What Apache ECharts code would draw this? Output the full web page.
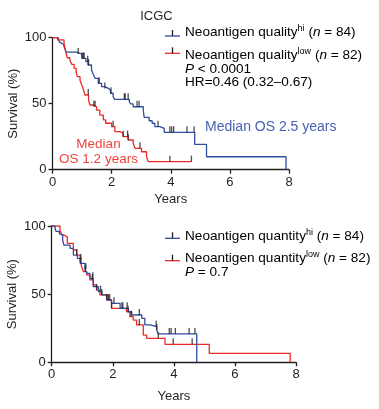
<!DOCTYPE html>
<html><head><meta charset="utf-8">
<script src="https://cdn.jsdelivr.net/npm/echarts@6/dist/echarts.min.js"></script>
<style>html,body{margin:0;padding:0;background:#fff}#c{width:379px;height:409px}</style>
</head><body><div id="c"></div>
<script>
// ---------- DATA ----------
const xTicks = [0, 2, 4, 6, 8];
const yTicks = [0, 50, 100];
const topTitle = 'ICGC';
const yAxisTitle = 'Survival (%)';
const xAxisTitle = 'Years';

// Top panel: neoantigen quality (KM steps: [time in years, survival % after the step])
const qualityHi = [[0,100],[0.2,98.3],[0.25,96.5],[0.31,95],[0.37,93.7],[0.42,91.4],[0.48,89],[0.8,87.6],[1.0,84.3],[1.13,81.8],[1.2,79.3],[1.32,75.5],[1.38,72.2],[1.44,69.2],[1.55,65.4],[1.66,62.9],[1.77,61.6],[1.89,60.4],[1.96,57.9],[2.05,55.5],[2.1,53.3],[2.6,51.5],[2.64,49.8],[2.73,47.7],[3.07,45.2],[3.1,39.7],[3.27,37.1],[3.37,35.2],[3.46,32.6],[3.63,31.3],[3.78,28.3],[4.81,19.2],[5.21,9.8],[7.9,0]];
const qualityLow = [[0,100],[0.17,98.3],[0.39,95.8],[0.42,92],[0.46,88.2],[0.5,84.8],[0.59,83],[0.65,79.8],[0.73,76.8],[0.8,74.2],[0.84,70.5],[0.93,68],[0.99,64.2],[1.04,61.1],[1.1,56.6],[1.22,52.8],[1.27,49],[1.38,47.7],[1.49,45.2],[1.6,41.4],[1.72,37.7],[1.8,35.2],[2.0,32.6],[2.11,28.8],[2.28,27.6],[2.39,25],[2.56,22.5],[2.73,20],[2.79,16.2],[3.01,13.6],[3.18,9.8],[3.24,6.1],[4.7,6.1]];
const qualityHiCensor = [0.87,1.0,1.04,1.07,1.19,1.22,1.58,1.77,1.98,2.43,2.46,2.56,2.86,2.93,3.57,3.97,4.03,4.1,4.55,4.79];
const qualityLowCensor = [1.21,1.4,1.44,2.05,2.39,2.54,2.56,2.96,3.97,4.7];

// Bottom panel: neoantigen quantity
const quantityHi = [[0,100],[0.11,98.5],[0.14,96.1],[0.25,94.4],[0.3,93.4],[0.36,89.7],[0.4,86],[0.6,83.6],[0.71,78.7],[0.84,76.3],[0.93,72.6],[1.09,68.2],[1.15,65.3],[1.25,61.6],[1.36,55.5],[1.53,51.8],[1.64,49.4],[1.8,45.7],[1.96,43.3],[2.24,39.6],[2.51,37.1],[2.62,34.7],[2.95,32.3],[3.05,27.4],[3.22,26.1],[3.44,23.7],[3.49,20.8],[4.75,0]];
const quantityLow = [[0,100],[0.27,97],[0.33,93.4],[0.4,92],[0.51,87.3],[0.71,82.4],[0.82,78.7],[0.93,75],[0.98,70.1],[1.04,66.5],[1.15,64],[1.25,60.4],[1.36,56.7],[1.47,53],[1.58,49.4],[1.85,45.7],[1.96,39.6],[2.45,37.1],[2.56,33.5],[2.67,31],[2.78,27.4],[3.0,20],[3.11,17.6],[3.71,13.2],[5.16,6.6],[7.81,0]];
const quantityHiCensor = [0.82,0.96,1.12,1.35,1.6,1.8,1.9,2.04,2.3,2.47,2.87,3.42,3.44,3.85,3.91,4.05,4.5,4.69];
const quantityLowCensor = [0.95,1.1,1.33,1.47,1.64,1.85,1.96,2.33,2.5,2.6,2.87,3.49,3.98,4.6];

const legendTop = [
  {name: 'Neoantigen quality', sup: 'hi', n: 84},
  {name: 'Neoantigen quality', sup: 'low', n: 82}
];
const legendBottom = [
  {name: 'Neoantigen quantity', sup: 'hi', n: 84},
  {name: 'Neoantigen quantity', sup: 'low', n: 82}
];
const statsTop = ['< 0.0001', 'HR=0.46 (0.32\u20130.67)'];
const statsBottom = ['= 0.7'];
const medianHi = 'Median OS 2.5 years';
const medianLow = ['Median', 'OS 1.2 years'];

// ---------- STYLE ----------
const BLUE = '#2f4d9e', RED = '#ec2a27', INK = '#231f20';
const FONT = '"Liberation Sans", Arial, Helvetica, sans-serif';

function survAt(curve, t) {
  let s = curve[0][1];
  for (const p of curve) { if (p[0] <= t + 1e-9) s = p[1]; else break; }
  return s;
}
function censorPts(curve, times) { return times.map(t => [t, survAt(curve, t)]); }

const chart = echarts.init(document.getElementById('c'), null, {renderer: 'canvas'});

const grids = [
  {left: 52.5, top: 37.7, width: 236.5, height: 132, containLabel: false, outerBoundsMode: 'none'},
  {left: 51.7, top: 226, width: 244.3, height: 136.3, containLabel: false, outerBoundsMode: 'none'}
];
function xAx(i, gap) {
  return {
    gridIndex: i, type: 'value', min: 0, max: 8, interval: 2,
    name: xAxisTitle, nameLocation: 'middle', nameGap: gap, nameMoveOverlap: false,
    nameTextStyle: {fontFamily: FONT, fontSize: 13, color: INK},
    axisLine: {show: true, onZero: false, lineStyle: {color: INK, width: 1.3}},
    axisTick: {show: true, length: 4, lineStyle: {color: INK, width: 1.3}},
    axisLabel: {fontFamily: FONT, fontSize: 13, color: INK, margin: 6,
      formatter: v => xTicks.includes(v) ? String(v) : ''},
    splitLine: {show: false}
  };
}
function yAx(i) {
  return {
    gridIndex: i, type: 'value', min: 0, max: 100, interval: 50,
    name: yAxisTitle, nameLocation: 'middle', nameGap: 33, nameRotate: 90, nameMoveOverlap: false,
    nameTextStyle: {fontFamily: FONT, fontSize: 13, color: INK},
    axisLine: {show: true, onZero: false, lineStyle: {color: INK, width: 1.3}},
    axisTick: {show: true, length: 4, lineStyle: {color: INK, width: 1.3}},
    axisLabel: {fontFamily: FONT, fontSize: 13, color: INK, margin: 6,
      formatter: v => yTicks.includes(v) ? String(v) : ''},
    splitLine: {show: false}
  };
}
function km(data, color, i) {
  return {type: 'line', step: 'end', data, xAxisIndex: i, yAxisIndex: i,
    showSymbol: false, symbol: 'none', lineStyle: {color, width: 1.3}, silent: true, animation: false, z: 2};
}
function cens(data, i) {
  return {type: 'scatter', data, xAxisIndex: i, yAxisIndex: i, symbol: 'rect',
    symbolSize: [1.3, 6], symbolOffset: [0, -3], itemStyle: {color: INK}, silent: true, animation: false, z: 3};
}

const rich = {
  n: {fontFamily: FONT, fontSize: 13.6, color: INK, lineHeight: 16},
  s: {fontFamily: FONT, fontSize: 9, color: INK, verticalAlign: 'top', lineHeight: 16, padding: [0, 0, 6, 0]},
  i: {fontFamily: FONT, fontSize: 13.6, color: INK, fontStyle: 'italic', lineHeight: 16}
};
function legendText(it) {
  return '{n|' + it.name + '}{s|' + it.sup + '}{n| (}{i|n}{n| = ' + it.n + ')}';
}
const graphics = [];
function addLegend(items, lineYs, textYs) {
  items.forEach((it, k) => {
    const col = k === 0 ? BLUE : RED;
    graphics.push({type: 'line', shape: {x1: 165, y1: lineYs[k], x2: 180, y2: lineYs[k]}, style: {stroke: col, lineWidth: 1.3}});
    graphics.push({type: 'line', shape: {x1: 172.5, y1: lineYs[k], x2: 172.5, y2: lineYs[k] - 6}, style: {stroke: INK, lineWidth: 1.3}});
    graphics.push({type: 'text', x: 185, y: textYs[k], style: {text: legendText(it), rich, verticalAlign: 'middle', align: 'left'}});
  });
}
addLegend(legendTop, [36, 53.3], [32.5, 55]);
addLegend(legendBottom, [238.3, 260.7], [236, 258.3]);
graphics.push({type: 'text', x: 185, y: 69, style: {text: '{i|P}{n| ' + statsTop[0] + '}', rich, verticalAlign: 'middle'}});
graphics.push({type: 'text', x: 185, y: 82.5, style: {text: '{n|' + statsTop[1] + '}', rich, verticalAlign: 'middle'}});
graphics.push({type: 'text', x: 185, y: 272, style: {text: '{i|P}{n| ' + statsBottom[0] + '}', rich, verticalAlign: 'middle'}});
graphics.push({type: 'text', x: 156.5, y: 16, style: {text: topTitle, fontFamily: FONT, fontSize: 13, fill: INK, align: 'center', verticalAlign: 'middle'}});
graphics.push({type: 'text', x: 205, y: 127.5, style: {text: medianHi, fontFamily: FONT, fontSize: 14, fill: '#4862b4', align: 'left', verticalAlign: 'middle'}});
graphics.push({type: 'text', x: 98.5, y: 151.5, style: {text: medianLow.join('\n'), fontFamily: FONT, fontSize: 13.5, lineHeight: 15, fill: '#f0443f', align: 'center', verticalAlign: 'middle'}});

chart.setOption({
  animation: false,
  backgroundColor: '#fff',
  grid: grids,
  xAxis: [xAx(0, 23), xAx(1, 28)],
  yAxis: [yAx(0), yAx(1)],
  series: [
    km(qualityHi, BLUE, 0), km(qualityLow, RED, 0),
    cens(censorPts(qualityHi, qualityHiCensor), 0), cens(censorPts(qualityLow, qualityLowCensor), 0),
    km(quantityLow, RED, 1), km(quantityHi, BLUE, 1),
    cens(censorPts(quantityHi, quantityHiCensor), 1), cens(censorPts(quantityLow, quantityLowCensor), 1)
  ],
  graphic: graphics
});
</script></body></html>
